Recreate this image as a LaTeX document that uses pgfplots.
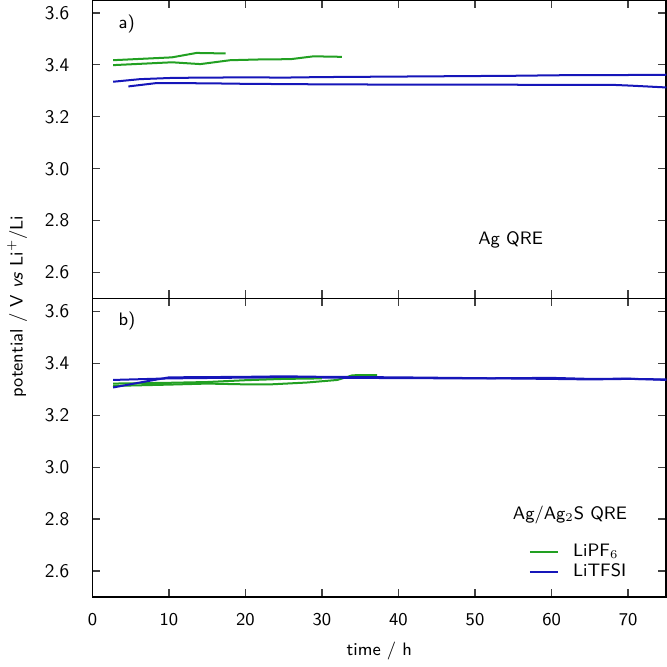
\documentclass[border=0pt]{standalone}
\usepackage{pgfplots}
\pgfplotsset{compat=1.18}
\renewcommand{\familydefault}{\sfdefault}
\definecolor{lgreen}{RGB}{34,160,34}
\definecolor{lblue}{RGB}{22,22,185}

\pgfplotsset{
  panel/.style={
    scale only axis, width=286.5pt, height=149pt,
    xmin=0, xmax=75, ymin=2.5, ymax=3.65,
    xtick={0,10,20,30,40,50,60,70},
    ytick={2.6,2.8,3.0,3.2,3.4,3.6},
    /pgf/number format/assume math mode=true,
    yticklabel style={/pgf/number format/fixed, /pgf/number format/fixed zerofill,
      /pgf/number format/precision=1, xshift=-8pt, font=\fontsize{9.6}{11}\selectfont},
    tick align=inside, major tick length=4pt,
    tick style={black!75, line width=0.6pt},
    axis line style={line width=0.8pt},
    every axis plot/.append style={line width=1pt, mark=none},
  }
}

\begin{document}
\begin{tikzpicture}[font=\fontsize{9}{11}\selectfont]
% b) Ag/Ag2S QRE
\begin{axis}[panel, name=b,
  xticklabel style={anchor=center, yshift=-11.5pt},
  xlabel={time / h},
  x label style={at={(axis description cs:0.5,0)}, anchor=center, yshift=-27pt},
  legend style={draw=none, fill=none, at={(axis cs:57,2.634)}, anchor=west,
    inner xsep=0pt, inner ysep=0pt, column sep=5pt, row sep=-2pt},
  legend cell align=left,
  legend image code/.code={\draw[#1] (0pt,0pt) -- (14pt,0pt);},
]
\addplot[lgreen] coordinates {(2.7,3.313) (10,3.318) (15,3.322) (20,3.319) (23.3,3.319) (28,3.326) (32,3.336) (34,3.354) (37.2,3.355)};
\addlegendentry{LiPF$_6$}
\addplot[lblue] coordinates {(2.7,3.336) (10,3.342) (20,3.345) (30,3.345) (40,3.343) (50,3.342) (60,3.344) (65,3.340) (70,3.341) (75,3.336)};
\addlegendentry{LiTFSI}
\addplot[lgreen, forget plot] coordinates {(2.7,3.322) (10,3.325) (15,3.328) (20,3.335) (25,3.340) (30,3.342)};
\addplot[lblue, forget plot] coordinates {(2.7,3.307) (6,3.325) (10,3.346) (20,3.348) (25,3.350) (30,3.348) (40,3.346) (50,3.343) (60,3.340) (65,3.338) (70,3.340) (75,3.338)};
\node[anchor=west] at (axis cs:2.5,3.564) {b)};
\node[anchor=east] at (axis cs:70.8,2.817) {Ag/Ag$_2$S QRE};
\end{axis}
% a) Ag QRE
\begin{axis}[panel, name=t, at={(b.north west)}, anchor=south west,
  xticklabels={},
]
\addplot[lgreen] coordinates {(2.7,3.418) (10.4,3.429) (13.6,3.446) (17.4,3.444)};
\addplot[lgreen] coordinates {(2.7,3.399) (10.4,3.410) (14.1,3.403) (18.0,3.418) (22,3.421) (25.9,3.422) (28.9,3.433) (32.6,3.431)};
\addplot[lblue] coordinates {(2.7,3.335) (6.2,3.345) (10.6,3.350) (20,3.352) (25,3.351) (30,3.353) (40,3.355) (50,3.357) (55,3.358) (63.8,3.361) (70,3.361) (75,3.362)};
\addplot[lblue] coordinates {(4.7,3.317) (8.4,3.330) (15,3.329) (20,3.327) (30,3.325) (40,3.324) (50,3.324) (60,3.323) (68,3.323) (70.4,3.320) (75,3.313)};
\node[anchor=west] at (axis cs:2.5,3.557) {a)};
\node[anchor=east] at (axis cs:59.8,2.724) {Ag QRE};
\end{axis}
\node[rotate=90] at ([xshift=-37.6pt,yshift=-4pt]b.north west) {potential / V \textit{vs} Li$^{+}$/Li};
\pgfresetboundingbox
\path ([xshift=-46.15pt,yshift=-34.85pt]b.south west) rectangle ([xshift=0.35pt]t.north east);
\end{tikzpicture}
\end{document}
